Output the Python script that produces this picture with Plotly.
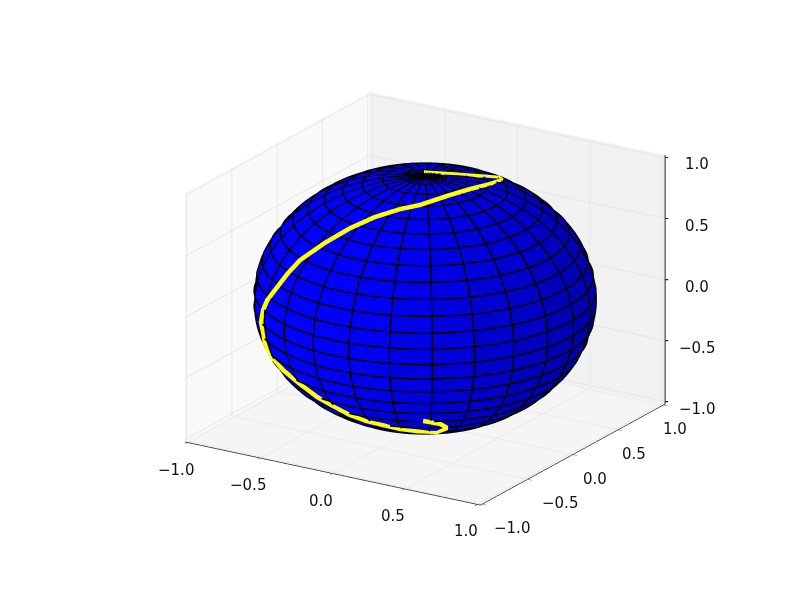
import numpy as np
import plotly.graph_objects as go

# Sphere grid (degrees)
grid_lat = np.linspace(-90, 90, 26)
grid_lon = np.linspace(0, 360, 26)

# Yellow curve
curve_x = [-0.039, 0.107, 0.219, 0.260, 0.296, 0.329, 0.306, 0.259, 0.165, 0.078, -0.034, -0.147, -0.266, -0.400,
           -0.464, -0.529, -0.610, -0.648, -0.678, -0.662, -0.670, -0.618, -0.511, -0.365, -0.257, -0.153, -0.064,
           0.023, 0.118, 0.197, 0.275, 0.355, 0.450, 0.454, 0.392]
curve_y = [0.055, 0.106, 0.240, 0.415, 0.389, 0.189, -0.002, -0.157, -0.345, -0.426, -0.526, -0.622, -0.711, -0.768,
           -0.799, -0.813, -0.790, -0.772, -0.745, -0.746, -0.713, -0.720, -0.777, -0.829, -0.819, -0.810, -0.769,
           -0.732, -0.696, -0.633, -0.570, -0.474, -0.520, -0.610, -0.702]
curve_z = [1.0, 1.0, 0.955, 0.878, 0.879, 0.938, 0.971, 0.975, 0.949, 0.928, 0.878, 0.799, 0.687, 0.538,
           0.429, 0.304, 0.168, 0.071, -0.046, -0.133, -0.228, -0.328, -0.386, -0.445, -0.528, -0.582, -0.650,
           -0.693, -0.720, -0.759, -0.784, -0.812, -0.737, -0.666, -0.618]

tick_vals = [-1.0, -0.5, 0.0, 0.5, 1.0]
tick_labels = ["\u22121.0", "\u22120.5", "0.0", "0.5", "1.0"]
AX_RANGE = [-1.02, 1.02]
SCALE = 1.2
Z_ASPECT = 0.76
TEXT = "#111111"
FONT = dict(family="DejaVu Sans", size=15, color=TEXT)
VIEW_TURN = np.radians(2.0)  # the camera sits 2 degrees round from the -60 the values were read at
Y_LABEL_SHIFT = [30, 32, 22, 16, 12]


def sph(lat, lon):
    la, lo = np.radians(lat), np.radians(lon) + VIEW_TURN
    return np.cos(la) * np.cos(lo), np.cos(la) * np.sin(lo), np.sin(la) * np.ones_like(lo)


cx = np.array(curve_x) * np.cos(VIEW_TURN) - np.array(curve_y) * np.sin(VIEW_TURN)
cy = np.array(curve_x) * np.sin(VIEW_TURN) + np.array(curve_y) * np.cos(VIEW_TURN)

# faceted sphere
L = np.array([-0.667, -0.667, 0.333])
vx, vy, vz, I, J, K, fc = [], [], [], [], [], [], []
for i in range(len(grid_lat) - 1):
    for j in range(len(grid_lon) - 1):
        idx = len(vx)
        for la, lo in [(grid_lat[i], grid_lon[j]), (grid_lat[i], grid_lon[j + 1]),
                       (grid_lat[i + 1], grid_lon[j + 1]), (grid_lat[i + 1], grid_lon[j])]:
            px_, py_, pz_ = sph(la, lo)
            vx.append(float(px_)); vy.append(float(py_)); vz.append(float(pz_))
        I += [idx, idx]; J += [idx + 1, idx + 2]; K += [idx + 2, idx + 3]
        n = np.array(sph((grid_lat[i] + grid_lat[i + 1]) / 2, (grid_lon[j] + grid_lon[j + 1]) / 2), dtype=float)
        k = max(0.5, min(1.0, 0.84 + 0.22 * float(n @ L)))
        c = f"rgb(0,0,{int(255 * k)})"
        fc += [c, c]

fig = go.Figure()
fig.add_trace(go.Mesh3d(x=vx, y=vy, z=vz, i=I, j=J, k=K, facecolor=fc, flatshading=True,
                        lighting=dict(ambient=1, diffuse=0, specular=0, roughness=1, fresnel=0),
                        hoverinfo="skip", showscale=False))

R = 1.002
lx, ly, lz = [], [], []
fine_lat = np.linspace(-90, 90, 91)
fine_lon = np.linspace(0, 360, 181)
for lo in grid_lon[:-1]:
    a, b, c = sph(fine_lat, lo)
    lx += list(R * a) + [None]; ly += list(R * b) + [None]; lz += list(R * np.sin(np.radians(fine_lat))) + [None]
for la in grid_lat[1:-1]:
    a, b, c = sph(la, fine_lon)
    lx += list(R * a) + [None]; ly += list(R * b) + [None]; lz += list(R * c) + [None]
fig.add_trace(go.Scatter3d(x=lx, y=ly, z=lz, mode="lines", line=dict(color="black", width=3),
                           hoverinfo="skip", showlegend=False))
fig.add_trace(go.Scatter3d(x=cx, y=cy, z=curve_z, mode="lines",
                           line=dict(color="#ffff00", width=9), hoverinfo="skip", showlegend=False))
# z axis line on the right-hand corner
fig.add_trace(go.Scatter3d(x=[AX_RANGE[1]] * 2, y=[AX_RANGE[1]] * 2, z=AX_RANGE, mode="lines",
                           line=dict(color="#222222", width=2), hoverinfo="skip", showlegend=False))


def axis(bg):
    return dict(range=AX_RANGE, autorange=False, tickvals=tick_vals, showticklabels=False,
                ticks="outside", ticklen=5, tickcolor="#222222", showline=True, linecolor="#222222",
                linewidth=1.5, showgrid=True, gridcolor="#e6e6e6", gridwidth=2, zeroline=False,
                showbackground=True, backgroundcolor=bg, showspikes=False, title=dict(text=""))


zax = axis("#f5f5f5")
zax.update(ticks="", showline=False)

annots = []
lo, hi = AX_RANGE
for v, t, ys in zip(tick_vals, tick_labels, Y_LABEL_SHIFT):
    # z axis: labels and small ticks on the right corner
    base = dict(x=hi, y=hi, z=v, showarrow=False, font=FONT)
    annots.append(dict(base, text=t, xanchor="center", yanchor="middle", xshift=32, yshift=-7))
    annots.append(dict(base, text=" ", showarrow=True, arrowhead=0, arrowwidth=1.2, arrowcolor="#222222",
                       ax=7, ay=0))
    annots.append(dict(base, text=" ", showarrow=True, arrowhead=0, arrowwidth=1.2, arrowcolor="#222222",
                       ax=-3, ay=0))
    # x axis labels (front edge) and y axis labels (right edge)
    annots.append(dict(x=v, y=lo, z=lo, text=t, showarrow=False, font=FONT, xanchor="center",
                       yanchor="middle", xshift=-12, yshift=-27))
    annots.append(dict(x=hi, y=v, z=lo, text=t, showarrow=False, font=FONT, xanchor="center",
                       yanchor="middle", xshift=ys, yshift=-24))

fig.update_layout(
    width=812, height=612, margin=dict(l=0, r=0, t=0, b=0), paper_bgcolor="white", showlegend=False,
    scene=dict(
        domain=dict(x=[22 / 812, 1], y=[31 / 612, 1]),
        xaxis=axis("#f9f9f9"), yaxis=axis("#f2f2f2"), zaxis=zax,
        aspectmode="manual", aspectratio=dict(x=SCALE, y=SCALE, z=SCALE * Z_ASPECT),
        annotations=annots,
        camera=dict(projection=dict(type="orthographic"), eye=dict(x=0.996, y=-1.594, z=0.684),
                    up=dict(x=0, y=0, z=1), center=dict(x=0, y=0, z=0)),
    ),
)
fig.write_html("out.html")
